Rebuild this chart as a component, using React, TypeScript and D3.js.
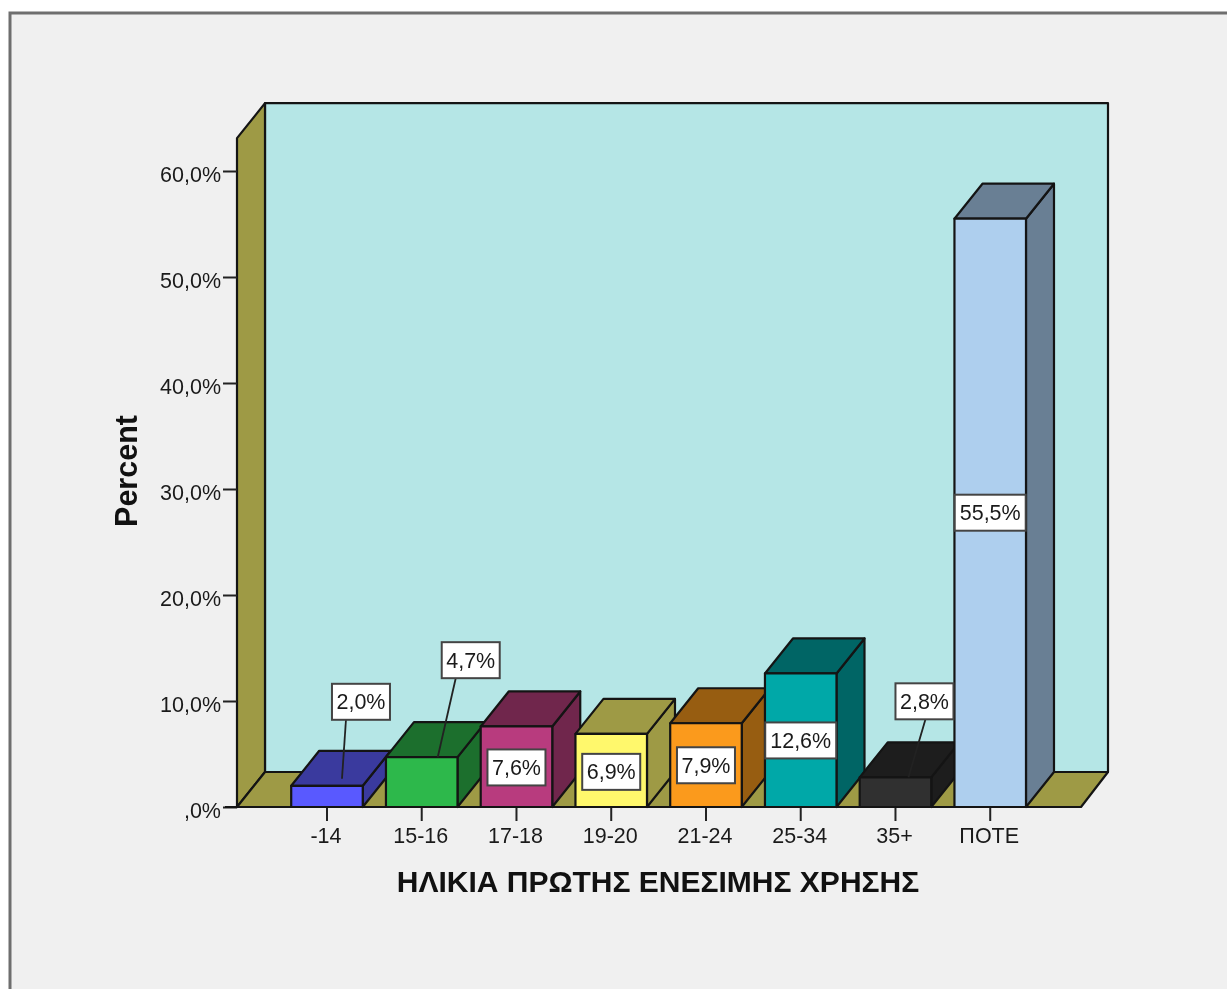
import React, { useEffect, useRef } from "react";
import * as d3 from "d3";

const categories = ["-14", "15-16", "17-18", "19-20", "21-24", "25-34", "35+", "ΠΟΤΕ"];
const percents = [2.0, 4.7, 7.6, 6.9, 7.9, 12.6, 2.8, 55.5];
const frontColors = ["#5959ff", "#2db84b", "#b83b7e", "#fff86c", "#fb9a1c", "#00a8a8", "#303030", "#aecfee"];
const darkColors = ["#3a3a9e", "#1c6f2d", "#70264c", "#9e9a45", "#975d11", "#006565", "#1d1d1d", "#697f94"];
const yTicks = [0, 10, 20, 30, 40, 50, 60];

// label box centres relative to the bar's front top centre
const labelOffsets: [number, number][] = [
  [34, -84], [49, -97], [0, 41], [0, 38], [0, 42], [0, 67], [29, -76], [0, 294],
];
// leader lines: x where it leaves the box (relative to box centre), end point relative to the bar top centre
const leaderStarts = [-15, -15, null, null, null, null, 1, null];
const leaderEnds: [number, number][] = [
  [15, -7], [16, 0], [0, 0], [0, 0], [0, 0], [0, 0], [13, 0], [0, 0],
];

const fmt = (v: number) => (v === 0 ? ",0%" : v.toFixed(1).replace(".", ",") + "%");

const FONT = "'Liberation Sans', Arial, sans-serif";
const INK = "#141414";

export default function App() {
  const ref = useRef<SVGSVGElement | null>(null);

  useEffect(() => {
    const width = 1227;
    const height = 989;
    const left = 237;
    const right = 1081;
    const bottom = 807;
    const depthX = 28;
    const depthY = 35;

    const svg = d3.select(ref.current);
    svg.selectAll("*").remove();

    const x = d3.scaleBand<string>().domain(categories).range([279.6, 1037.6]).paddingInner(0.245).paddingOuter(0.1225);
    const y = d3.scaleLinear().domain([0, 60]).range([bottom, 171]);
    const top = y(63.1);

    // page frame
    svg.append("rect").attr("width", width).attr("height", height).attr("fill", "#ffffff");
    svg.append("rect").attr("x", 10).attr("y", 13).attr("width", width + 20).attr("height", height + 20)
      .attr("fill", "#f0f0f0").attr("stroke", "#6e6e6e").attr("stroke-width", 3);

    const face = (pts: [number, number][], fill: string, sw = 2.2) =>
      svg.append("path").attr("d", d3.line()(pts) + "Z").attr("fill", fill)
        .attr("stroke", INK).attr("stroke-width", sw).attr("stroke-linejoin", "round");

    // back wall, side wall, floor
    face([[left + depthX, top - depthY], [right + depthX - 1, top - depthY], [right + depthX - 1, bottom - depthY], [left + depthX, bottom - depthY]], "#b5e6e6");
    face([[left, top], [left + depthX, top - depthY], [left + depthX, bottom - depthY], [left, bottom]], "#9e9a45");
    face([[left, bottom], [left + depthX, bottom - depthY], [right + depthX - 1, bottom - depthY], [right, bottom]], "#9e9a45");

    // axes
    const yAxis = svg.append("g").attr("transform", `translate(${left},0)`)
      .call(d3.axisLeft(y).tickValues(yTicks).tickSize(14).tickPadding(2).tickFormat((d) => fmt(+d)));
    const xAxis = svg.append("g").attr("transform", `translate(0,${bottom})`)
      .call(d3.axisBottom(x).tickSize(14).tickPadding(7));
    yAxis.select(".domain").remove();
    xAxis.select(".domain").remove();
    svg.append("line").attr("x1", left - 12).attr("x2", right).attr("y1", bottom).attr("y2", bottom)
      .attr("stroke", INK).attr("stroke-width", 2.2);
    [yAxis, xAxis].forEach((a) => {
      a.selectAll("line").attr("stroke", "#222").attr("stroke-width", 2);
      a.selectAll("text").attr("font-family", FONT).attr("font-size", 21.5).attr("fill", "#1a1a1a");
    });
    yAxis.selectAll("text").attr("dy", "0.62em").attr("y", -2.5);
    xAxis.selectAll("text").attr("dx", -1);

    // bars, left to right so each one covers its neighbour's side
    categories.forEach((c, i) => {
      const x0 = x(c) as number;
      const x1 = x0 + x.bandwidth();
      const yt = y(percents[i]);
      face([[x1, yt], [x1 + depthX, yt - depthY], [x1 + depthX, bottom - depthY], [x1, bottom]], darkColors[i]);
      face([[x0, yt], [x0 + depthX, yt - depthY], [x1 + depthX, yt - depthY], [x1, yt]], darkColors[i]);
      face([[x0, yt], [x1, yt], [x1, bottom], [x0, bottom]], frontColors[i]);
    });

    // value labels
    categories.forEach((c, i) => {
      const cx = (x(c) as number) + x.bandwidth() / 2;
      const yt = y(percents[i]);
      const lx = cx + labelOffsets[i][0];
      const ly = yt + labelOffsets[i][1];
      const start = leaderStarts[i];
      if (start !== null) {
        svg.append("line").attr("x1", lx + start).attr("y1", ly + 18)
          .attr("x2", cx + leaderEnds[i][0]).attr("y2", yt + leaderEnds[i][1])
          .attr("stroke", "#222").attr("stroke-width", 1.8);
      }
      const w = i === 5 || i === 7 ? 71 : 58;
      svg.append("rect").attr("x", lx - w / 2).attr("y", ly - 18).attr("width", w).attr("height", 36)
        .attr("fill", "#ffffff").attr("stroke", "#444").attr("stroke-width", 2);
      svg.append("text").attr("x", lx).attr("y", ly + 7.5).attr("text-anchor", "middle")
        .attr("font-family", FONT).attr("font-size", 21.5).attr("fill", "#1a1a1a").text(fmt(percents[i]));
    });

    // axis titles
    svg.append("text").attr("x", 658).attr("y", 892).attr("text-anchor", "middle")
      .attr("font-family", FONT).attr("font-weight", "bold").attr("font-size", 30).attr("fill", "#111")
      .text("ΗΛΙΚΙΑ ΠΡΩΤΗΣ ΕΝΕΣΙΜΗΣ ΧΡΗΣΗΣ");
    svg.append("text").attr("transform", "translate(137,471) rotate(-90)").attr("text-anchor", "middle")
      .attr("font-family", FONT).attr("font-weight", "bold").attr("font-size", 30.5).attr("fill", "#111")
      .text("Percent");
  }, []);

  return (
    <svg
      ref={ref}
      width={1227}
      height={989}
      style={{ position: "absolute", left: 0, top: 0, display: "block", filter: "blur(0.45px)" }}
    />
  );
}
